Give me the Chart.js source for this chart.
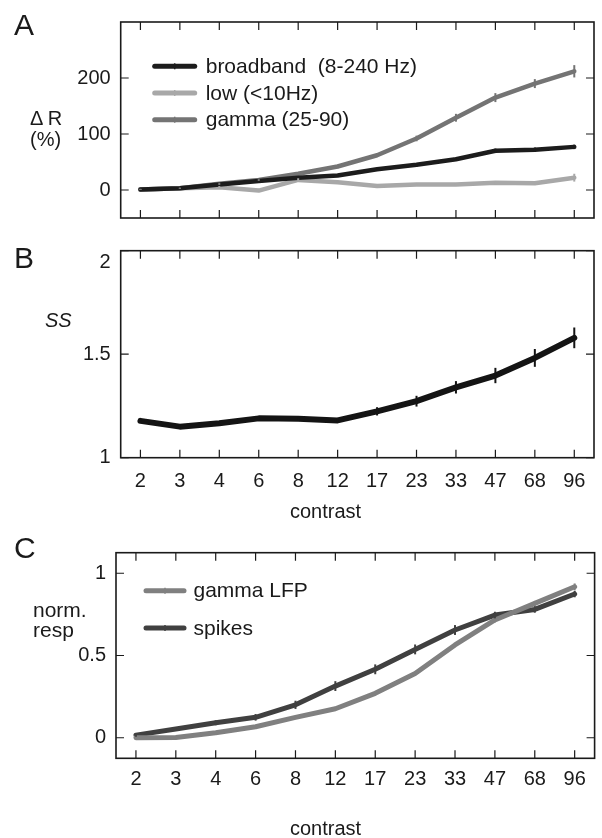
<!DOCTYPE html>
<html><head><meta charset="utf-8">
<script src="https://cdn.jsdelivr.net/npm/chart.js@4/dist/chart.umd.min.js"></script>
<style>
html,body{margin:0;padding:0;background:#fff;}
body{width:602px;height:838px;position:relative;overflow:hidden;font-family:"Liberation Sans",Arial,sans-serif;color:#1a1a1a;}
canvas{position:absolute;left:0;}
.t{position:absolute;white-space:nowrap;line-height:1;}
</style></head><body>
<canvas id="ca" width="602" height="240" style="top:0px"></canvas>
<canvas id="cb" width="602" height="300" style="top:225px"></canvas>
<canvas id="cc" width="602" height="313" style="top:525px"></canvas>

<div class="t" style="left:14px;top:9.6px;font-size:30px">A</div>
<div class="t" style="left:14px;top:242.6px;font-size:30px">B</div>
<div class="t" style="left:14px;top:532.6px;font-size:30px">C</div>
<div class="t" style="left:30px;top:108px;font-size:20px">&Delta; R</div>
<div class="t" style="left:30px;top:129px;font-size:20px">(%)</div>
<div class="t" style="left:45px;top:310px;font-size:20px;font-style:italic">SS</div>
<div class="t" style="left:33px;top:599px;font-size:21px">norm.</div>
<div class="t" style="left:33px;top:619px;font-size:21px">resp</div>
<div class="t" style="left:290px;top:501px;font-size:20px">contrast</div>
<div class="t" style="left:290px;top:818px;font-size:20px">contrast</div>

<script>
// ---- data ----
const contrast = ['2','3','4','6','8','12','17','23','33','47','68','96'];
// Panel A: ΔR (%)
const broadband    = [1, 3, 10, 16, 22, 26, 37, 45, 55, 70, 72, 77];
const broadbandErr = [1, 1, 2, 2, 2, 2, 2, 3, 3, 4, 4, 4];
const lowFreq      = [1, 3, 5, -1, 18, 14, 7, 10, 10, 13, 12, 22];
const lowErr       = [1, 1, 2, 2, 3, 2, 2, 2, 2, 3, 3, 7];
const gammaBand    = [1, 3, 11, 18, 29, 42, 62, 92, 129, 165, 190, 212];
const gammaErr     = [1, 1, 2, 2, 2, 3, 3, 5, 7, 8, 8, 11];
const yTicksA = [0, 100, 200];
// Panel B: SS
const ssIndex = [1.178, 1.15, 1.166, 1.19, 1.188, 1.18, 1.224, 1.273, 1.34, 1.397, 1.482, 1.579];
const ssErr   = [0.01, 0.008, 0.008, 0.01, 0.01, 0.012, 0.02, 0.026, 0.03, 0.037, 0.043, 0.05];
const yTicksB = [1, 1.5, 2];
// Panel C: normalised response
const gammaLFP    = [0, 0.002, 0.03, 0.067, 0.124, 0.176, 0.27, 0.39, 0.564, 0.716, 0.817, 0.918];
const gammaLFPErr = [0.005, 0.005, 0.005, 0.008, 0.008, 0.01, 0.01, 0.01, 0.012, 0.015, 0.015, 0.02];
const spikes      = [0.016, 0.053, 0.091, 0.124, 0.2, 0.314, 0.416, 0.537, 0.655, 0.746, 0.78, 0.874];
const spikesErr   = [0.01, 0.012, 0.015, 0.02, 0.025, 0.03, 0.03, 0.03, 0.03, 0.02, 0.02, 0.02];
const yTicksC = [0, 0.5, 1];

const FONT = '"Liberation Sans", Arial, sans-serif';
Chart.defaults.font.family = FONT;
Chart.defaults.color = '#1a1a1a';

// frame with inward ticks + error bars + inside legend
const decor = {
  id: 'decor',
  afterDatasetsDraw(chart, args, opts) {
    const ctx = chart.ctx;
    const {left, right, top, bottom} = chart.chartArea;
    const xs = chart.scales.x, ys = chart.scales.y;
    ctx.save();
    // error bars
    chart.data.datasets.forEach((ds, di) => {
      if (!ds.errors) return;
      const meta = chart.getDatasetMeta(di);
      ctx.strokeStyle = ds.borderColor;
      ctx.lineWidth = 2;
      ds.data.forEach((v, i) => {
        const px = meta.data[i].x;
        const y1 = ys.getPixelForValue(v - ds.errors[i]);
        const y2 = ys.getPixelForValue(v + ds.errors[i]);
        ctx.beginPath(); ctx.moveTo(px, y1); ctx.lineTo(px, y2); ctx.stroke();
      });
    });
    // ticks
    ctx.strokeStyle = '#1a1a1a';
    ctx.lineWidth = 1.2;
    const L = 8;
    xs.ticks.forEach((t, i) => {
      const px = xs.getPixelForTick(i);
      ctx.beginPath();
      ctx.moveTo(px, top); ctx.lineTo(px, top + L);
      ctx.moveTo(px, bottom); ctx.lineTo(px, bottom - L);
      ctx.stroke();
    });
    ys.ticks.forEach((t) => {
      const py = ys.getPixelForValue(t.value);
      ctx.beginPath();
      ctx.moveTo(left, py); ctx.lineTo(left + L, py);
      ctx.moveTo(right, py); ctx.lineTo(right - L, py);
      ctx.stroke();
    });
    ctx.lineWidth = 1.6;
    ctx.strokeRect(left, top, right - left, bottom - top);
    // legend
    if (opts.legend) {
      const lg = opts.legend;
      ctx.font = lg.fontSize + 'px ' + FONT;
      ctx.textBaseline = 'middle';
      ctx.textAlign = 'left';
      chart.data.datasets.forEach((ds, i) => {
        const y = top + lg.y0 + i * lg.dy;
        ctx.strokeStyle = ds.borderColor;
        ctx.lineWidth = 5;
        ctx.lineCap = 'round';
        ctx.beginPath(); ctx.moveTo(left + lg.x0, y); ctx.lineTo(left + lg.x0 + lg.len, y); ctx.stroke();
        ctx.lineWidth = 1.5;
        ctx.lineCap = 'butt';
        const mx = left + lg.x0 + lg.len / 2;
        ctx.beginPath(); ctx.moveTo(mx, y - 3); ctx.lineTo(mx, y + 3); ctx.stroke();
        ctx.fillStyle = '#1a1a1a';
        ctx.fillText(ds.label, left + lg.tx, y + 1);
      });
    }
    // displaced top label
    if (opts.topLabel) {
      ctx.font = '20px ' + FONT;
      ctx.fillStyle = '#1a1a1a';
      ctx.textAlign = 'right';
      ctx.textBaseline = 'middle';
      ctx.fillText(opts.topLabel.text, left - 10, ys.getPixelForValue(opts.topLabel.value) + 12);
    }
    ctx.restore();
  }
};

function makeChart(id, datasets, cfg) {
  return new Chart(document.getElementById(id), {
    type: 'line',
    data: { labels: contrast, datasets: datasets },
    plugins: [decor],
    options: {
      responsive: false,
      animation: false,
      events: [],
      layout: { padding: { top: cfg.top, right: 602 - cfg.right, left: 0, bottom: 0 } },
      plugins: {
        legend: { display: false },
        tooltip: { enabled: false },
        decor: { legend: cfg.legend, topLabel: cfg.topLabel }
      },
      elements: { point: { radius: 0 }, line: { tension: 0, borderCapStyle: 'round', borderJoinStyle: 'round' } },
      scales: {
        x: {
          type: 'category',
          offset: true,
          grid: { display: false, drawTicks: false },
          border: { display: false },
          ticks: { display: cfg.xLabels, font: { size: 20 }, padding: cfg.xPad, maxRotation: 0, autoSkip: false, color: '#1a1a1a' },
          afterFit: (s) => { s.height = cfg.xH; }
        },
        y: {
          min: cfg.min, max: cfg.max,
          grid: { display: false, drawTicks: false },
          border: { display: false },
          afterBuildTicks: (s) => { s.ticks = cfg.yTicks.map(v => ({ value: v })); },
          ticks: {
            font: { size: 20 }, padding: 10, color: '#1a1a1a',
            callback: (v) => (cfg.hideVal !== undefined && v === cfg.hideVal) ? '' : String(v)
          },
          afterFit: (s) => { s.width = cfg.left; }
        }
      }
    }
  });
}

// Panel A
makeChart('ca', [
  { label: 'broadband  (8-240 Hz)', data: broadband, errors: broadbandErr, borderColor: '#1c1c1c', borderWidth: 4.5 },
  { label: 'low (<10Hz)', data: lowFreq, errors: lowErr, borderColor: '#a8a8a8', borderWidth: 4.5 },
  { label: 'gamma (25-90)', data: gammaBand, errors: gammaErr, borderColor: '#747474', borderWidth: 4.5 }
], { top: 19, left: 120.7, right: 594, xH: 15, xLabels: false, xPad: 0, min: -50, max: 300, yTicks: yTicksA,
     legend: { x0: 34, len: 40, tx: 85, y0: 44.3, dy: 26.7, fontSize: 21 } });

// Panel B
makeChart('cb', [
  { label: 'SS', data: ssIndex, errors: ssErr, borderColor: '#141414', borderWidth: 6 }
], { top: 25.7, left: 120.7, right: 594, xH: 67.3, xLabels: true, xPad: 12, min: 1, max: 2, yTicks: yTicksB,
     hideVal: 2, topLabel: { text: '2', value: 2 } });

// Panel C
makeChart('cc', [
  { label: 'gamma LFP', data: gammaLFP, errors: gammaLFPErr, borderColor: '#808080', borderWidth: 5 },
  { label: 'spikes', data: spikes, errors: spikesErr, borderColor: '#404040', borderWidth: 5 }
], { top: 27.7, left: 116, right: 594.6, xH: 79.7, xLabels: true, xPad: 9, min: -0.125, max: 1.125, yTicks: yTicksC,
     legend: { x0: 30, len: 38, tx: 77.5, y0: 38, dy: 37.3, fontSize: 21 } });
</script>
</body></html>
